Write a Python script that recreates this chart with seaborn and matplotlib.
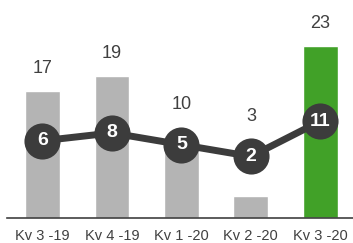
import matplotlib
matplotlib.use("Agg")
import matplotlib.pyplot as plt
import seaborn as sns
import pandas as pd

quarters = ["Kv 3 -19", "Kv 4 -19", "Kv 1 -20", "Kv 2 -20", "Kv 3 -20"]
bar_values = [17, 19, 10, 3, 23]
line_values = [6, 8, 5, 2, 11]
bar_colors = ["#b4b4b4", "#b4b4b4", "#b4b4b4", "#b4b4b4", "#41a128"]

df = pd.DataFrame({"quarter": quarters, "bars": bar_values, "line": line_values})

sns.set_style("white")
plt.rcParams["font.family"] = ["Liberation Sans", "DejaVu Sans"]

fig = plt.figure(figsize=(3.53, 2.43), dpi=100)
ax = fig.add_axes([7 / 353, 25 / 243, 346 / 353, 218 / 243])

sns.barplot(data=df, x="quarter", y="bars", hue="quarter", palette=bar_colors,
            legend=False, width=0.5, saturation=1, ax=ax)
ax.set_xlim(-0.51, 4.47)
ax.set_ylim(0, 29.07)

ax2 = ax.twinx()
sns.lineplot(x=range(len(line_values)), y=line_values, ax=ax2, color="#3c3c3c",
             linewidth=5, marker="o", markersize=26, markeredgewidth=0, zorder=3)
ax2.set_ylim(-13.7, 41.9)

# values inside the circles
for i, v in enumerate(line_values):
    ax2.text(i, v, str(v), ha="center", va="center", color="white",
             fontsize=14, fontweight="bold", zorder=4)

# bar labels above bar top or above the circle, whichever is higher
px_bar = 218 / 29.07
px_line = 218 / (41.9 + 13.7)
for i, v in enumerate(bar_values):
    bar_top = v * px_bar
    circle_top = (line_values[i] + 13.7) * px_line + 18
    y_px = max(bar_top, circle_top) + 22
    ax.text(i, y_px / px_bar, str(v), ha="center", va="center",
            color="#404040", fontsize=13)

for a in (ax, ax2):
    a.set_yticks([])
    a.set_ylabel("")
    for s in ["top", "right", "left"]:
        a.spines[s].set_visible(False)
ax2.spines["bottom"].set_visible(False)
ax.spines["bottom"].set_color("#404040")
ax.spines["bottom"].set_linewidth(1.2)
ax.set_xlabel("")
ax.tick_params(axis="x", length=0, pad=8, labelsize=10.5, labelcolor="#404040")

fig.savefig("out.png", dpi=100)
